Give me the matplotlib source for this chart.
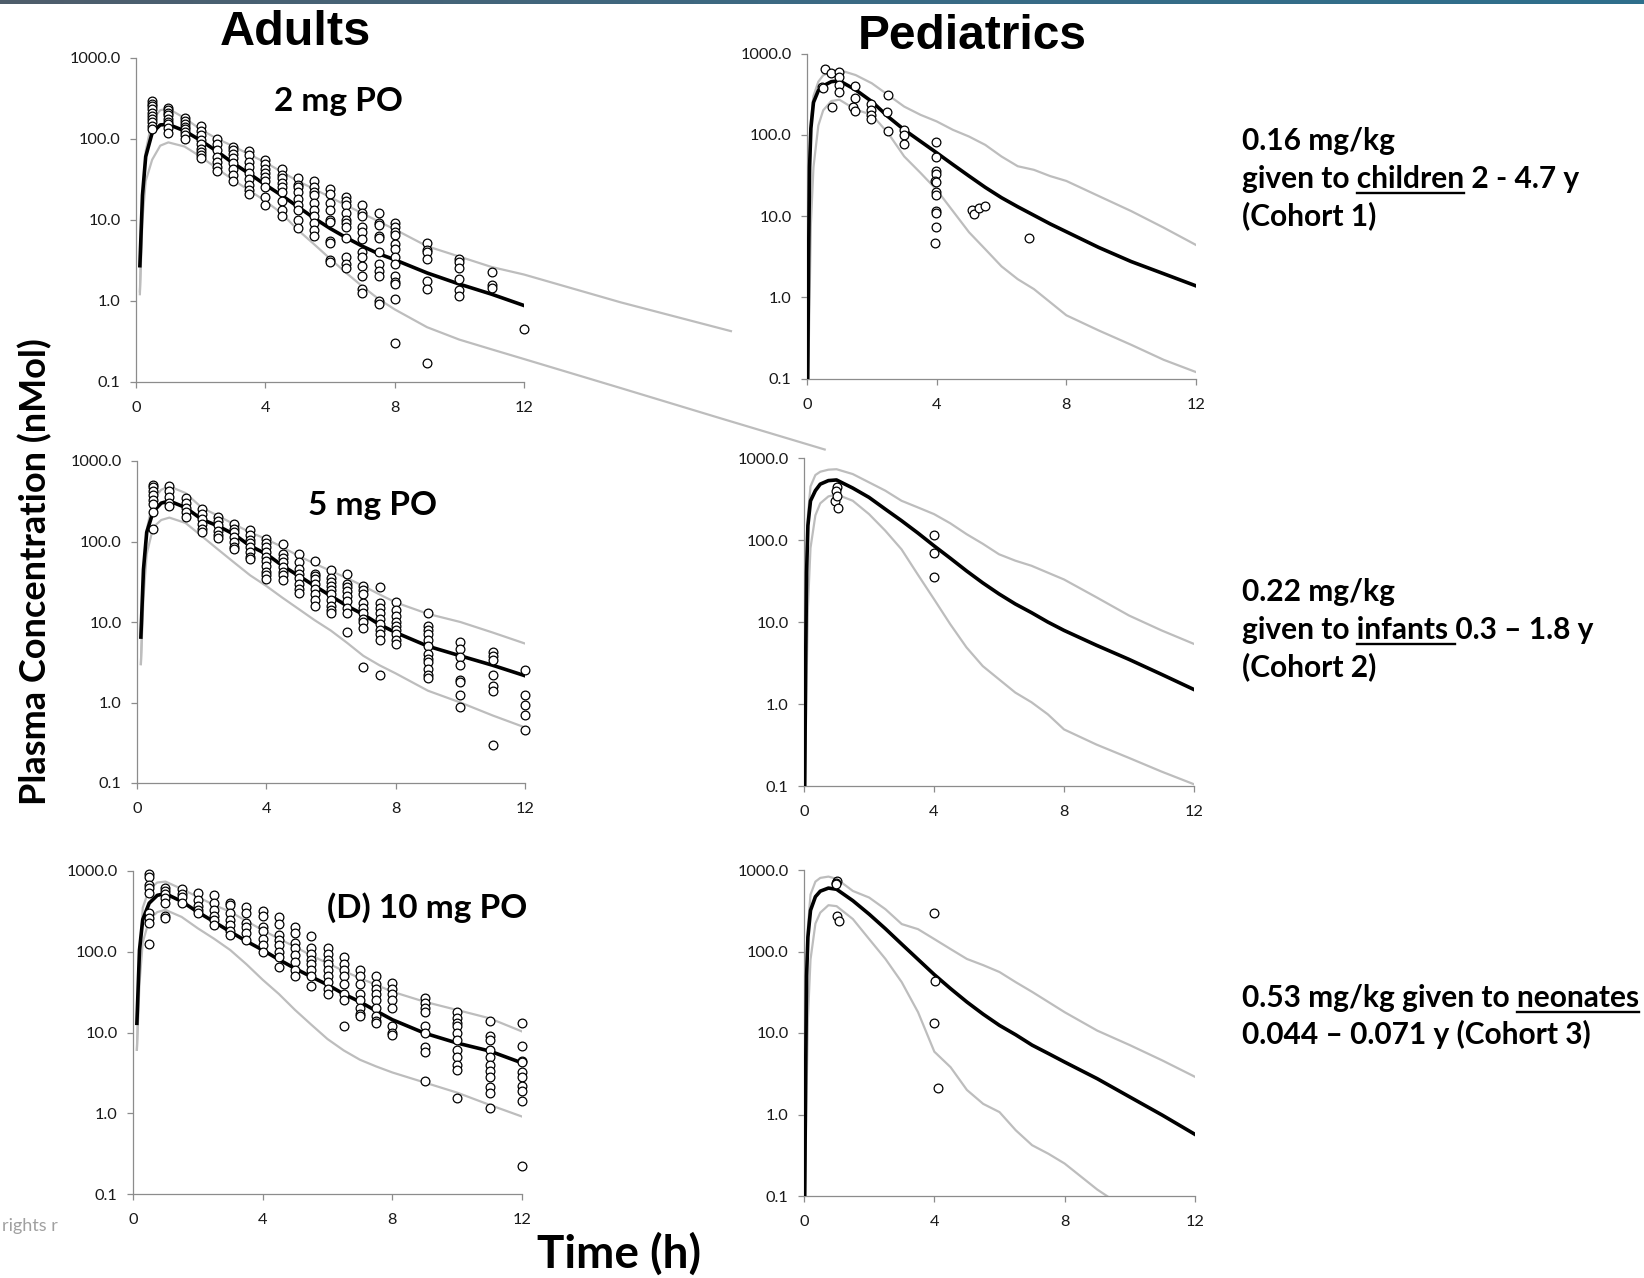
import numpy as np
import matplotlib
matplotlib.use('Agg')
import matplotlib.pyplot as plt
from matplotlib.lines import Line2D
from matplotlib.ticker import NullLocator
from matplotlib.colors import LinearSegmentedColormap

plt.rcParams['font.family'] = ['Lato', 'DejaVu Sans']

W, H = 1644, 1278

# ---- adults: simulated curves (mean, 95th, 5th percentile) ----
adult_t = [0.12, 0.2, 0.3, 0.5, 0.75, 1, 1.5, 2, 2.5, 3, 3.5, 4, 4.5, 5, 5.5,
           6, 6.5, 7, 7.5, 8, 9, 10, 11, 12]

a2_mean = [2.7, 20, 60, 118, 148, 150, 125, 95, 70, 50, 37, 27, 20, 14.5, 10.5,
           7.8, 6.0, 4.7, 3.8, 3.2, 2.2, 1.6, 1.2, 0.87]
# 2 mg percentile lines run past the panel edge in the original
a2_p95_t = adult_t + [15, 18.4]
a2_p95 = [1.3, 15, 70, 170, 225, 235, 180, 130, 100, 81, 64, 51, 39, 30, 24,
          19, 15, 12, 9.5, 7.6, 4.7, 3.5, 2.6, 2.1, 0.95, 0.42]
a2_p5_t = adult_t + [15, 18, 21.3]
a2_p5 = [1.2, 10, 30, 55, 82, 90, 80, 60, 43, 31, 23, 17, 12, 7.5, 5,
         3.3, 2.2, 1.5, 1.05, 0.78, 0.47, 0.33, 0.25, 0.19, 0.083, 0.036, 0.0145]

a5_mean = [6.5, 45, 130, 235, 300, 319, 264, 189, 156, 123, 88, 70, 50, 37.5, 28,
           21, 15.8, 12.4, 9.3, 7.4, 5.0, 3.8, 2.9, 2.15]
a5_p95 = [3.0, 30, 140, 330, 440, 485, 400, 264, 209, 164, 130, 107, 85, 66, 53,
          43, 35, 28, 22, 17.5, 12.6, 10, 7.4, 5.4]
a5_p5 = [3.0, 20, 70, 150, 185, 198, 170, 117, 80, 55, 38, 28, 20, 14.5, 10.5,
         7.8, 5.5, 3.8, 2.9, 2.3, 1.4, 1.0, 0.69, 0.49]

a10_mean = [13, 105, 250, 400, 500, 525, 420, 310, 235, 177, 135, 105, 80, 62, 49,
            39, 30, 24, 18.5, 14.4, 9.8, 7.4, 5.9, 4.2]
a10_p95 = [6.1, 60, 350, 600, 720, 740, 600, 477, 380, 312, 240, 185, 145, 115, 90,
           72, 58, 47, 39, 32, 24, 19, 15, 10.3]
a10_p5 = [6.1, 40, 130, 250, 310, 330, 270, 195, 145, 105, 70, 45, 30, 19, 12.5,
          8.3, 6.0, 4.6, 3.8, 3.2, 2.4, 1.8, 1.27, 0.91]

# ---- adults: observed concentrations by sampling time ----
obs_times = [0.5, 1, 1.5, 2, 2.5, 3, 3.5, 4, 4.5, 5, 5.5, 6, 6.5, 7, 7.5, 8, 9, 10, 11, 12]

a2_obs = [
    [290, 270, 250, 230, 210, 190, 175, 160, 145, 130],
    [240, 225, 210, 195, 175, 160, 150, 135, 118],
    [180, 165, 150, 140, 130, 120, 110, 100],
    [143, 125, 110, 95, 85, 75, 68, 62, 58],
    [98, 85, 72, 60, 52, 45, 40],
    [80, 72, 65, 57, 50, 42, 36, 30],
    [70, 62, 52, 45, 38, 32, 27, 23, 21],
    [55, 48, 42, 38, 34, 30, 25, 19, 15],
    [42, 36, 33, 28, 25, 22, 17, 13, 11],
    [33, 27, 25, 22, 18, 15, 13, 10, 7.8],
    [30, 25, 22, 20, 16, 13, 11, 9, 7.5, 6.3],
    [24, 21, 16, 13, 10, 9.3, 5.5, 5.2, 3.2, 3.0],
    [19, 17, 15, 12, 10, 9, 8, 6, 3.5, 2.8, 2.5],
    [15, 12, 11, 8, 7, 5.7, 4, 3.5, 2.7, 2.0, 1.4, 1.25],
    [12, 9, 8.5, 6.2, 6, 4, 2.8, 2.3, 2.0, 1.0, 0.92],
    [9, 8, 7, 6.5, 5, 4.3, 3.5, 2.8, 2.0, 1.7, 1.6, 1.05, 0.3],
    [5.1, 4.2, 4.0, 3.3, 1.75, 1.4, 0.17],
    [3.3, 3.0, 2.5, 1.85, 1.35, 1.15],
    [2.25, 1.55, 1.45],
    [0.44],
]

a5_obs = [
    [510, 470, 430, 380, 330, 290, 230, 145],
    [490, 420, 360, 300, 280],
    [350, 300, 260, 230, 200],
    [250, 220, 190, 165, 145, 130],
    [200, 180, 160, 135, 120, 110],
    [165, 145, 130, 115, 100, 85, 80],
    [140, 120, 105, 95, 85, 75, 65, 60],
    [107, 95, 85, 75, 65, 57, 50, 42, 38, 34],
    [94, 70, 62, 55, 48, 42, 38, 33],
    [70, 55, 45, 40, 35, 30, 26, 23],
    [58, 40, 37, 34, 30, 26, 22, 19, 16],
    [44, 35, 31, 28, 25, 22, 19, 16, 14, 13],
    [40, 30, 27, 24, 21, 18, 15, 13, 7.5],
    [28, 25, 22, 17, 15, 13, 11, 10, 8.5, 2.8],
    [27, 17, 15, 13, 11, 9.5, 8, 7, 6, 2.2],
    [17.5, 14, 12, 10, 9, 8, 7, 6, 5.4],
    [13, 9, 8, 7, 6, 5, 4, 3.5, 3.2, 2.6, 2.2, 2.0],
    [5.6, 4.6, 3.7, 2.9, 1.9, 1.8, 1.25, 0.88],
    [4.2, 3.8, 3.4, 2.2, 1.6, 1.4, 0.3],
    [2.5, 1.25, 0.93, 0.7, 0.45],
]

a10_obs = [
    [930, 840, 680, 620, 530, 300, 260, 225, 125],
    [620, 560, 520, 460, 400, 280, 265],
    [600, 520, 470, 400],
    [530, 440, 370, 330, 300],
    [500, 400, 330, 280, 250, 215],
    [400, 380, 300, 250, 215, 180, 160],
    [360, 300, 230, 200, 170, 140],
    [320, 280, 200, 180, 145, 120, 100],
    [270, 220, 160, 140, 120, 100, 85, 65],
    [200, 170, 130, 110, 90, 75, 60, 50],
    [155, 110, 95, 80, 70, 60, 50, 38],
    [110, 95, 80, 70, 60, 50, 42, 35, 30],
    [85, 70, 60, 50, 40, 30, 25, 12],
    [60, 50, 40, 30, 25, 20, 17, 16],
    [50, 40, 35, 30, 25, 20, 16, 14, 13],
    [41, 35, 30, 25, 20, 12, 10, 9.2],
    [27, 23, 20, 18, 12, 10, 6.6, 5.8, 2.5],
    [18, 15, 13, 12, 10, 8, 6, 5, 4, 3.4, 1.55],
    [14, 9, 8, 6, 5, 4, 3.3, 2.8, 2.1, 1.8, 1.15],
    [13, 6.8, 4.5, 4.3, 3.2, 2.8, 2.2, 1.9, 1.4, 0.22],
]

# ---- pediatrics: simulated curves ----
ped_t = [0.02, 0.05, 0.08, 0.12, 0.2, 0.35, 0.5, 0.75, 1.0, 1.5, 2, 2.5, 3, 3.5,
         4, 4.5, 5, 5.5, 6, 6.5, 7, 7.5, 8, 9, 10, 11, 12]

c1_mean = [0.08, 3, 40, 120, 250, 350, 400, 450, 462, 357, 256, 167, 115, 83,
           60, 43, 31, 22.5, 16.8, 13, 10.2, 8.0, 6.4, 4.1, 2.75, 1.95, 1.38]
c1_p95 = [0.08, 4, 50, 150, 300, 450, 540, 600, 625, 543, 430, 309, 222, 176,
          146, 115, 95, 75, 54, 41, 37, 31, 27, 17.6, 11.5, 7.2, 4.4]
c1_p5 = [0.05, 0.2, 1, 8, 40, 130, 200, 260, 270, 204, 176, 105, 54, 34,
         21, 11.5, 6.3, 3.9, 2.4, 1.67, 1.26, 0.87, 0.6, 0.39, 0.26, 0.17, 0.12]

c2_mean = [0.08, 3, 40, 150, 300, 400, 480, 530, 540, 430, 331, 238, 172, 122,
           85, 60, 42, 30, 22, 16.6, 13, 10, 7.9, 5.2, 3.5, 2.3, 1.5]
c2_p95 = [0.08, 5, 60, 200, 450, 620, 680, 720, 730, 637, 505, 400, 301, 250,
          207, 160, 118, 90, 67, 56, 48.5, 40, 33, 20, 12, 7.9, 5.4]
c2_p5 = [0.05, 0.3, 2, 15, 80, 200, 280, 340, 360, 301, 207, 130, 77, 38,
         19, 9.4, 4.9, 2.9, 2.0, 1.38, 1.05, 0.75, 0.49, 0.32, 0.22, 0.15, 0.105]

c3_mean = [0.08, 3, 50, 150, 320, 470, 550, 600, 580, 420, 287, 190, 123, 80,
           52, 35, 24, 17, 12.4, 9.5, 7.1, 5.6, 4.4, 2.75, 1.64, 0.98, 0.57]
c3_p95 = [0.08, 5, 60, 200, 500, 720, 800, 830, 780, 553, 459, 330, 217, 188,
          142, 107, 81, 68, 56, 42, 32, 24, 18, 10.7, 7.1, 4.6, 2.9]
c3_p5 = [0.05, 0.3, 2, 15, 80, 220, 300, 370, 360, 250, 142, 81, 42, 18,
         5.9, 3.8, 2.0, 1.35, 1.07, 0.64, 0.42, 0.33, 0.25, 0.12, 0.065, 0.04, 0.03]

# ---- pediatrics: observed ----
c1_obs_t = [0.54, 0.74, 1.0, 0.46, 0.5, 0.76, 1.0, 1.0, 1.0, 1.48, 1.48, 1.43, 1.48,
            1.98, 1.98, 1.98, 1.98, 2.49, 2.46, 2.49, 2.99, 2.99, 2.99,
            3.99, 3.99, 3.99, 3.99, 3.96, 3.99, 3.99, 3.99, 3.99, 3.99, 3.99, 3.96,
            5.09, 5.15, 5.30, 5.48, 6.84]
c1_obs_c = [637, 570, 585, 390, 373, 218, 520, 410, 333, 400, 281, 218, 196,
            240, 202, 176, 155, 309, 193, 112, 115, 100, 76,
            81, 53, 36, 33, 27, 26, 20, 18, 11.5, 10.8, 7.4, 4.6,
            12.0, 10.5, 12.6, 13.4, 5.3]
c2_obs_t = [1.0, 0.97, 0.96, 1.0, 1.06, 4.0, 4.0, 4.0]
c2_obs_c = [447, 400, 301, 340, 245, 114, 70, 35]
c3_obs_t = [1.02, 0.98, 0.97, 1.0, 1.07, 4.0, 4.02, 3.98, 4.1]
c3_obs_c = [734, 700, 667, 269, 238, 300, 43, 13.3, 2.1]

y_ticks = [0.1, 1, 10, 100, 1000]
y_labels = ['0.1', '1.0', '10.0', '100.0', '1000.0']
x_ticks = [0, 4, 8, 12]

GREY = '#bdbdbd'
AXC = '#8c8c8c'

fig = plt.figure(figsize=(W / 100, H / 100), dpi=100)


def make_ax(x0, x1, ytop, ybot):
    ax = fig.add_axes([x0 / W, 1 - ybot / H, (x1 - x0) / W, (ybot - ytop) / H])
    ax.set_yscale('log')
    ax.set_xlim(0, 12)
    ax.set_ylim(0.1, 1000)
    ax.set_xticks(x_ticks)
    ax.set_yticks(y_ticks)
    ax.set_yticklabels(y_labels)
    ax.yaxis.set_minor_locator(NullLocator())
    for s in ['top', 'right']:
        ax.spines[s].set_visible(False)
    for s in ['left', 'bottom']:
        ax.spines[s].set_color(AXC)
        ax.spines[s].set_linewidth(0.9)
    ax.tick_params(direction='out', length=4, width=0.9, color=AXC,
                   labelsize=11.8, labelcolor='#1a1a1a')
    ax.tick_params(axis='x', pad=10)
    ax.tick_params(axis='y', pad=7)
    ax.patch.set_visible(False)
    return ax


def curves(ax, t, mean, t95, p95, t5, p5, clip=True):
    ax.plot(t95, p95, color=GREY, lw=1.6, clip_on=clip, zorder=2)
    ax.plot(t5, p5, color=GREY, lw=1.6, clip_on=clip, zorder=2)
    ax.plot(t, mean, color='black', lw=2.6, zorder=3)


def points(ax, tt, cc):
    ax.plot(tt, cc, 'o', ms=6.3, mfc='white', mec='black', mew=0.9,
            clip_on=False, zorder=4)


def adult_points(ax, obs):
    tt, cc = [], []
    for t, col in zip(obs_times, obs):
        tt += [t] * len(col)
        cc += col
    points(ax, tt, cc)


ax = make_ax(136, 524, 57.7, 381.6)
curves(ax, adult_t, a2_mean, a2_p95_t, a2_p95, a2_p5_t, a2_p5, clip=False)
adult_points(ax, a2_obs)

ax = make_ax(137, 525, 461, 783)
curves(ax, adult_t, a5_mean, adult_t, a5_p95, adult_t, a5_p5)
adult_points(ax, a5_obs)

ax = make_ax(133, 522, 871, 1194)
curves(ax, adult_t, a10_mean, adult_t, a10_p95, adult_t, a10_p5)
adult_points(ax, a10_obs)

ax = make_ax(807, 1196, 53.5, 378.5)
curves(ax, ped_t, c1_mean, ped_t, c1_p95, ped_t, c1_p5)
points(ax, c1_obs_t, c1_obs_c)

ax = make_ax(804, 1194, 458, 786)
curves(ax, ped_t, c2_mean, ped_t, c2_p95, ped_t, c2_p5)
points(ax, c2_obs_t, c2_obs_c)

ax = make_ax(804, 1195, 870, 1196)
curves(ax, ped_t, c3_mean, ped_t, c3_p95, ped_t, c3_p5)
points(ax, c3_obs_t, c3_obs_c)


def ftext(x, y, s, **kw):
    return fig.text(x / W, 1 - y / H, s, **kw)


# headings
ftext(295, 45, 'Adults', family='Liberation Sans', fontweight='bold',
      fontsize=35, ha='center', va='baseline')
ftext(972, 49, 'Pediatrics', family='Liberation Sans', fontweight='bold',
      fontsize=34.5, ha='center', va='baseline')

ftext(338, 111, '2 mg PO', fontweight='bold', fontsize=24, ha='center', va='baseline')
ftext(372, 515, '5 mg PO', fontweight='bold', fontsize=24, ha='center', va='baseline')
ftext(427, 918, '(D) 10 mg PO', fontweight='bold', fontsize=24, ha='center', va='baseline')

ftext(619, 1268, 'Time (h)', fontweight='bold', fontsize=33, ha='center', va='baseline')
ftext(35, 572, 'Plasma Concentration (nMol)', fontweight='bold', fontsize=26,
      rotation=90, ha='center', va='center')
ftext(2, 1226, 'rights r', fontsize=13, color='#a0a0a0', ha='left', va='center')

# cohort descriptions with underlined words
RS = 21.5
renderer = fig.canvas.get_renderer()


def text_w(s):
    t = fig.text(0, 0, s, fontsize=RS, fontweight='bold')
    w = t.get_window_extent(renderer).width
    t.remove()
    return w


def underline(x, y, a, b):
    fig.add_artist(Line2D([(x + a) / W, (x + b) / W], [1 - (y + 5) / H] * 2,
                          color='black', lw=1.7, transform=fig.transFigure))


TX = 1242
cohort1 = ['0.16 mg/kg', 'given to children 2 - 4.7 y', '(Cohort 1)']
cohort2 = ['0.22 mg/kg', 'given to infants 0.3 \u2013 1.8 y', '(Cohort 2)']
cohort3 = ['0.53 mg/kg given to neonates', '0.044 \u2013 0.071 y (Cohort 3)']

for lines, ys in [(cohort1, [150, 188, 225]), (cohort2, [601, 639, 676]),
                  (cohort3, [1007, 1044])]:
    for s, y in zip(lines, ys):
        ftext(TX, y, s, fontsize=RS, fontweight='bold', ha='left', va='baseline')

underline(TX, 188, text_w('given to children') - text_w('children'), text_w('given to children'))
underline(TX, 639, text_w('given to infants') - text_w('infants'),
          text_w('given to infants 0.3') - text_w('0.3'))
underline(TX, 1007, text_w(cohort3[0]) - text_w('neonates'), text_w(cohort3[0]))

# thin banner line at the top
bar = fig.add_axes([0, 1 - 4 / H, 1, 4 / H])
cmap = LinearSegmentedColormap.from_list('bar', ['#4f5d6b', '#3b6a84', '#2e6f8c'])
bar.imshow(np.linspace(0, 1, 256)[None, :], aspect='auto', cmap=cmap)
bar.axis('off')

fig.savefig('out.png', dpi=100)
